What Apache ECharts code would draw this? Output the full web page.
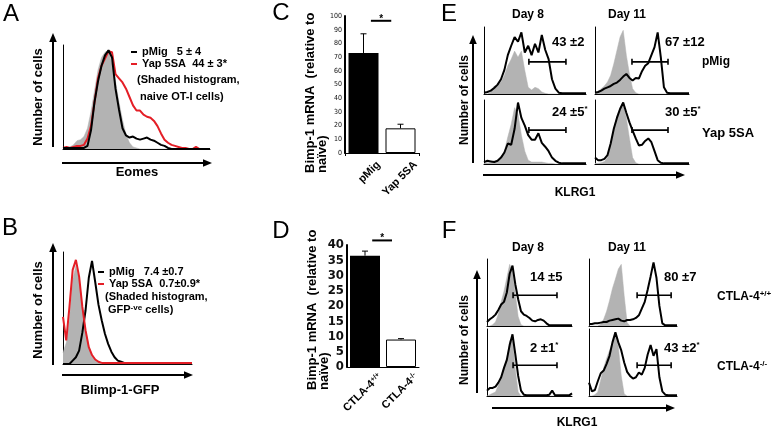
<!DOCTYPE html>
<html>
<head>
<meta charset="utf-8">
<script src="https://cdn.jsdelivr.net/npm/echarts@6/dist/echarts.min.js"></script>
<style>
  html, body { margin: 0; background: #fff; }
  #chart { width: 774px; height: 430px; }
</style>
</head>
<body>
<div id="chart"></div>
<script>
// ---- data (histograms: % of max, evenly spaced bins across each plot) ----
// A: Eomes
const eomesNaive = [0,1,2,4,8,9,12,20,36,56,76,88,93,95,82,65,45,28,14,6,2,1,0,0,0,0,0,0,0,0,0,0,0,0,0,0,0,0,0,0,0,0,0]
const eomesPMig = [1,1,1,1,1,1,1,3,18,45,65,80,90,95,88,58,38,20,13,11,12,10,9,10,11,9,8,6,4,3,1,0,0,0,0,0,0,0,0,0,0,0,0]
const eomesYap = [1,2,1,2,3,3,4,10,22,45,68,80,87,94,93,72,68,64,58,50,42,37,37,33,31,30,27,22,15,9,6,4,3,2,1,1,0,0,2,0,0,0,0]
// B: Blimp-1-GFP
const blimpNaive = [10,19,40,75,88,76,50,30,16,8,4,2,0,0,0,0,0,0,0,0,0,0,0,0,0,0,0,0,0,0,0,0,0,0,0,0,0,0,0,0,0]
const blimpPMig = [0,0,0,3,6,12,28,48,77,92,73,53,39,27,18,11,6,3,2,1,1,1,1,1,1,1,1,1,1,1,1,1,1,1,1,1,1,1,1,1,1]
const blimpYap = [42,21,51,84,93,78,51,30,15,8,4,2,1,1,1,1,1,1,1,1,1,1,1,1,1,1,1,1,1,1,1,1,1,1,1,1,1,1,1,1,1]
// E: KLRG1, pMig / Yap 5SA, day 8 / day 11
const klrgD8PMig = [2,3,5,9,14,22,36,58,72,85,78,92,62,72,58,75,62,88,66,52,22,8,2,1,1,1,1,1,1,1,1]
const klrgD8PMigNaive = [0,0,3,12,12,18,28,42,52,64,55,64,35,10,6,10,8,3,1,0,0,0,0,0,0,0,0,0,0,0,0]
const klrgD11PMig = [2,3,5,8,10,12,15,17,21,26,30,24,20,24,23,34,42,46,58,70,92,55,10,2,1,1,1,1,1,1,1]
const klrgD11PMigNaive = [1,4,8,12,18,28,45,65,85,95,58,30,8,2,0,0,0,0,0,0,0,0,0,0,0,0,0,0,0,0,0]
const klrgD8Yap = [3,5,4,3,5,10,18,32,30,55,96,72,60,45,38,38,48,33,27,20,10,5,2,1,1,1,1,1,1,1,1]
const klrgD8YapNaive = [1,2,2,5,6,10,20,42,62,88,78,45,20,6,3,3,3,3,2,1,1,0,0,0,0,0,0,0,0,0,0]
const klrgD11Yap = [10,6,6,8,14,32,55,72,86,96,80,65,52,40,29,30,36,40,34,20,6,2,1,1,1,1,1,1,1,1,1]
const klrgD11YapNaive = [1,1,2,4,10,30,55,75,88,96,72,40,10,2,0,0,0,0,0,0,0,0,0,0,0,0,0,0,0,0,0]
// F: KLRG1, CTLA-4 +/+ and -/-
const ctlaD8WT = [6,10,13,17,24,32,36,50,78,90,62,40,22,17,15,12,8,7,9,10,8,4,1,1,1,1,1,1,1,1,1]
const ctlaD8WTNaive = [0,0,2,6,18,36,52,72,92,82,48,14,2,0,0,0,0,0,0,0,0,0,0,0,0,0,0,0,0,0,0]
const ctlaD11WT = [3,3,4,4,5,6,6,8,9,10,11,8,7,9,9,10,12,16,26,36,54,74,95,72,30,4,1,1,1,1,1]
const ctlaD11WTNaive = [0,0,0,0,3,10,22,38,56,70,85,92,45,5,0,0,0,0,0,0,0,0,0,0,0,0,0,0,0,0,0]
const ctlaD8KO = [8,12,12,14,20,28,42,54,76,92,62,30,8,2,1,1,1,1,1,1,1,1,2,8,1,1,1,1,1,1,4]
const ctlaD8KONaive = [0,2,4,6,16,30,42,56,82,88,40,6,0,0,0,0,0,0,0,0,0,0,0,0,0,0,0,0,0,0,0]
const ctlaD11KO = [20,7,9,22,34,38,48,60,80,95,80,68,50,36,30,26,28,35,32,42,62,76,60,70,28,7,2,1,1,1,1]
const ctlaD11KONaive = [0,0,2,6,24,42,56,68,80,90,74,30,3,0,0,0,0,0,0,0,0,0,0,0,0,0,0,0,0,0,0]

// gates [from bin, to bin, height]
const gatesE = [[13.2, 24.1, 48], [11.8, 23.3, 48], [13.2, 24.1, 53], [11.8, 23.3, 53]]
const gatesF = [[9.2, 24.7, 46], [16.4, 28, 46], [9.2, 24.7, 46], [16.4, 28, 46]]
const pctE = ['43 ±2', '67 ±12', '24 ±5{s|*}', '30 ±5{s|*}']
const pctF = ['14 ±5', '80 ±7', '2 ±1{s|*}', '43 ±2{s|*}']

// C / D bar charts
const catsC = ['pMig', 'Yap 5SA']
const valsC = [73, 18]
const errC = [14, 3]
const sigC = 96.5
const catsD = ['CTLA-4+/+', 'CTLA-4-/-']
const valsD = [36.5, 9]
const errD = [1.5, 0.3]
const sigD = 41.5

const legendA = { 'pMig': 'pMig   5 ± 4', 'Yap 5SA': 'Yap 5SA  44 ± 3*' }
const legendB = { 'pMig': 'pMig   7.4 ±0.7', 'Yap 5SA': 'Yap 5SA  0.7±0.9*' }

// ---- styling ----
const FONT = '"Liberation Sans", Arial, sans-serif'
const NARROW = '"Liberation Sans Narrow", "DejaVu Sans Condensed", "Liberation Sans", sans-serif'
const GREY = '#b3b3b3'
const RED = '#e41e26'

const grids = [], xAxes = [], yAxes = [], series = []

function addHistGrid(box, n) {
  const idx = grids.length
  grids.push({ left: box[0], top: box[1], width: box[2], height: box[3], outerBoundsMode: 'none' })
  xAxes.push({
    gridIndex: idx, type: 'value', min: 0, max: n - 1,
    axisLine: { show: true, lineStyle: { color: '#000', width: 1 } },
    axisTick: { show: false }, axisLabel: { show: false }, splitLine: { show: false },
  })
  yAxes.push({
    gridIndex: idx, type: 'value', min: 0, max: 100,
    axisLine: { show: true, lineStyle: { color: '#000', width: 1 } },
    axisTick: { show: false }, axisLabel: { show: false }, splitLine: { show: false },
  })
  return idx
}

function hist(idx, vals, color, fill, name) {
  const s = {
    type: 'line', name, xAxisIndex: idx, yAxisIndex: idx,
    data: vals.map((v, i) => [i, v]),
    symbol: 'none', silent: true, color,
    lineStyle: { color, width: fill ? 0.5 : 2 },
    z: fill ? 1 : 3,
  }
  if (fill) s.areaStyle = { color, opacity: 1 }
  return s
}

function gate(idx, g) {
  return {
    type: 'custom', xAxisIndex: idx, yAxisIndex: idx, data: [g], silent: true, z: 4,
    renderItem: (params, api) => {
      const a = api.coord([api.value(0), api.value(2)])
      const b = api.coord([api.value(1), api.value(2)])
      const st = { stroke: '#000', lineWidth: 1.6 }
      return {
        type: 'group', children: [
          { type: 'line', shape: { x1: a[0], y1: a[1], x2: b[0], y2: b[1] }, style: st },
          { type: 'line', shape: { x1: a[0], y1: a[1] - 3, x2: a[0], y2: a[1] + 3 }, style: st },
          { type: 'line', shape: { x1: b[0], y1: b[1] - 3, x2: b[0], y2: b[1] + 3 }, style: st },
        ],
      }
    },
  }
}

// A, B
const gA = addHistGrid([63, 45, 147, 104], eomesNaive.length)
series.push(hist(gA, eomesNaive, GREY, true, 'naive A'))
series.push(hist(gA, eomesYap, RED, false, 'Yap 5SA'))
series.push(hist(gA, eomesPMig, '#000', false, 'pMig'))
const gB = addHistGrid([63, 252, 129, 112], blimpNaive.length)
series.push(hist(gB, blimpNaive, GREY, true, 'GFP-ve B'))
series.push(hist(gB, blimpPMig, '#000', false, 'pMig'))
series.push(hist(gB, blimpYap, RED, false, 'Yap 5SA'))

// C, D bar charts
function addBarPanel(box, cats, vals, errs, sig, yMax, yStep, tickFont, labelMargin, isD) {
  const idx = grids.length
  grids.push({ left: box[0], top: box[1], width: box[2], height: box[3], outerBoundsMode: 'none' })
  xAxes.push({
    gridIndex: idx, type: 'category', data: cats,
    axisLine: { show: true, lineStyle: { color: '#000', width: 1 } },
    axisTick: { show: !isD, length: 3, lineStyle: { color: '#000' } },
    axisLabel: { show: false }, splitLine: { show: false },
  })
  yAxes.push({
    gridIndex: idx, type: 'value', min: 0, max: yMax, interval: yStep,
    axisLine: { show: true, lineStyle: { color: '#000', width: 2 } },
    axisTick: { show: false },
    axisLabel: Object.assign({ margin: 3, color: '#111', fontFamily: NARROW }, tickFont),
    splitLine: { show: false },
  })
  series.push({
    type: 'bar', xAxisIndex: idx, yAxisIndex: idx, barWidth: 30, silent: true,
    data: vals.map((v, i) => ({
      value: v,
      itemStyle: i === 0 ? { color: '#000' } : { color: '#fff', borderColor: '#000', borderWidth: 1 },
    })),
  })
  // error bars (upper only)
  series.push({
    type: 'custom', xAxisIndex: idx, yAxisIndex: idx, silent: true, z: 5,
    data: vals.map((v, i) => [i, v, v + errs[i]]),
    renderItem: (params, api) => {
      const lo = api.coord([api.value(0), api.value(1)])
      const hi = api.coord([api.value(0), api.value(2)])
      const st = { stroke: '#000', lineWidth: 1 }
      return {
        type: 'group', children: [
          { type: 'line', shape: { x1: lo[0], y1: lo[1], x2: hi[0], y2: hi[1] }, style: st },
          { type: 'line', shape: { x1: hi[0] - 3, y1: hi[1], x2: hi[0] + 3, y2: hi[1] }, style: st },
        ],
      }
    },
  })
  // significance bar
  series.push({
    type: 'custom', xAxisIndex: idx, yAxisIndex: idx, silent: true, z: 5, clip: false,
    data: [[0, 1, sig]],
    renderItem: (params, api) => {
      const p0 = api.coord([0, api.value(2)])
      const p1 = api.coord([1, api.value(2)])
      const band = api.size([1, 0])[0]
      const x1 = p0[0] + band * 0.2, x2 = p1[0] - band * 0.25
      return {
        type: 'group', children: [
          { type: 'line', shape: { x1, y1: p0[1], x2, y2: p0[1] }, style: { stroke: '#000', lineWidth: 2 } },
          { type: 'text', x: (x1 + x2) / 2, y: p0[1] + 3, style: {
            text: '*', fill: '#000', fontSize: 10, fontWeight: 'bold', fontFamily: FONT,
            align: 'center', verticalAlign: 'bottom', textAlign: 'center', textVerticalAlign: 'bottom' } },
        ],
      }
    },
  })
  // rotated category labels sit a little to the right of the bars
  const lab = grids.length
  grids.push({ left: box[0] + 15, top: box[1], width: box[2], height: box[3], outerBoundsMode: 'none' })
  xAxes.push({
    gridIndex: lab, type: 'category', data: cats,
    axisLine: { show: false }, axisTick: { show: false }, splitLine: { show: false },
    axisLabel: {
      interval: 0, rotate: 45, margin: labelMargin, color: '#000',
      fontSize: 11, fontWeight: 'bold', fontFamily: FONT,
      formatter: (v) => v.replace(/^(CTLA-4)(.+)$/, '$1{s|$2}'),
      rich: { s: { fontSize: 7, fontWeight: 'bold', fontFamily: FONT, color: '#000', verticalAlign: 'top' } },
    },
  })
  yAxes.push({ gridIndex: lab, type: 'value', min: 0, max: 1, show: false })
}

addBarPanel([345, 16, 74, 137], catsC, valsC, errC, sigC, 100, 10, { fontSize: 7 }, 10, false)
addBarPanel([347, 245, 72, 122], catsD, valsD, errD, sigD, 40, 5, { fontSize: 13, fontWeight: 'bold' }, 8, true)

// E, F small histograms
const eBoxes = [[484, 27, 102, 67], [595, 27, 94, 67], [484, 100, 102, 64], [595, 100, 94, 64]]
const eData = [[klrgD8PMigNaive, klrgD8PMig], [klrgD11PMigNaive, klrgD11PMig], [klrgD8YapNaive, klrgD8Yap], [klrgD11YapNaive, klrgD11Yap]]
eBoxes.forEach((box, k) => {
  const g = addHistGrid(box, eData[k][1].length)
  series.push(hist(g, eData[k][0], GREY, true, 'E naive ' + k))
  series.push(hist(g, eData[k][1], '#000', false, 'E ' + k))
  series.push(gate(g, gatesE[k]))
})
const fBoxes = [[487, 259, 85, 67], [589, 259, 88, 67], [487, 329, 85, 67], [589, 329, 88, 67]]
const fData = [[ctlaD8WTNaive, ctlaD8WT], [ctlaD11WTNaive, ctlaD11WT], [ctlaD8KONaive, ctlaD8KO], [ctlaD11KONaive, ctlaD11KO]]
fBoxes.forEach((box, k) => {
  const g = addHistGrid(box, fData[k][1].length)
  series.push(hist(g, fData[k][0], GREY, true, 'F naive ' + k))
  series.push(hist(g, fData[k][1], '#000', false, 'F ' + k))
  series.push(gate(g, gatesF[k]))
})

// ---- annotations ----
const SUP = { s: { fontSize: 8, fontWeight: 'bold', fontFamily: FONT, fill: '#000', verticalAlign: 'top' } }

function txt(x, y, text, size, opt) {
  opt = opt || {}
  const align = opt.align || 'left'
  return {
    type: 'text', x, y, rotation: opt.rot || 0, silent: true,
    style: {
      text, fill: '#000', fontSize: size, fontWeight: opt.weight || 'bold', fontFamily: FONT,
      align, verticalAlign: opt.valign || 'middle', textAlign: align, textVerticalAlign: opt.valign || 'middle',
      lineHeight: opt.lineHeight, rich: SUP,
    },
  }
}

function arrow(x1, y1, x2, y2) {
  const ang = Math.atan2(y2 - y1, x2 - x1)
  const L = 9, W = 3.8
  const bx = x2 - L * Math.cos(ang), by = y2 - L * Math.sin(ang)
  return [
    { type: 'line', silent: true, shape: { x1, y1, x2: bx, y2: by }, style: { stroke: '#000', lineWidth: 2 } },
    { type: 'polygon', silent: true, shape: { points: [[x2, y2],
      [bx - W * Math.sin(ang), by + W * Math.cos(ang)], [bx + W * Math.sin(ang), by - W * Math.cos(ang)]] },
      style: { fill: '#000' } },
  ]
}

const UP = Math.PI / 2
const graphics = [
  txt(11, 14, 'A', 24, { weight: 'normal', align: 'center' }),
  txt(10, 228, 'B', 24, { weight: 'normal', align: 'center' }),
  txt(281, 13, 'C', 24, { weight: 'normal', align: 'center' }),
  txt(281, 231, 'D', 24, { weight: 'normal', align: 'center' }),
  txt(449, 14, 'E', 24, { weight: 'normal', align: 'center' }),
  txt(449, 231, 'F', 24, { weight: 'normal', align: 'center' }),

  ...arrow(53, 147, 53, 33), ...arrow(62, 163, 212, 163),
  ...arrow(53, 365, 53, 243), ...arrow(62, 375, 193, 375),
  ...arrow(473, 163, 473, 35), ...arrow(483, 175, 685, 175),
  ...arrow(477, 393, 477, 270), ...arrow(492, 408, 675, 408),

  txt(38, 97, 'Number of cells', 13, { align: 'center', rot: UP }),
  txt(38, 310, 'Number of cells', 13, { align: 'center', rot: UP }),
  txt(465, 100, 'Number of cells', 12, { align: 'center', rot: UP }),
  txt(465, 340, 'Number of cells', 12, { align: 'center', rot: UP }),
  txt(137, 172, 'Eomes', 13, { align: 'center' }),
  txt(120, 390, 'Blimp-1-GFP', 13, { align: 'center' }),
  txt(575, 193, 'KLRG1', 12, { align: 'center' }),
  txt(577, 423, 'KLRG1', 12, { align: 'center' }),

  txt(137, 80, '(Shaded histogram,', 11),
  txt(140, 97, 'naive OT-I cells)', 11),
  txt(105, 297, '(Shaded histogram,', 11),
  txt(108, 310, 'GFP{s|-ve} cells)', 11, { lineHeight: 13 }),

  txt(304, 173, 'Bimp-1 mRNA  (relative to\nnaïve)', 13, { valign: 'top', rot: UP, lineHeight: 12 }),
  txt(306, 390, 'Bimp-1 mRNA  (relative to\nnaïve)', 13, { valign: 'top', rot: UP, lineHeight: 12 }),

  txt(528, 15, 'Day 8', 12, { align: 'center' }),
  txt(627, 15, 'Day 11', 12, { align: 'center' }),
  txt(528, 248, 'Day 8', 12, { align: 'center' }),
  txt(627, 248, 'Day 11', 12, { align: 'center' }),
  txt(702, 62, 'pMig', 12),
  txt(702, 133, 'Yap 5SA', 13),
  txt(717, 297, 'CTLA-4{s|+/+}', 12, { lineHeight: 14 }),
  txt(717, 367, 'CTLA-4{s|-/-}', 12, { lineHeight: 14 }),

  txt(552, 42, pctE[0], 13, { lineHeight: 15 }),
  txt(665, 42, pctE[1], 13, { lineHeight: 15 }),
  txt(552, 112, pctE[2], 13, { lineHeight: 15 }),
  txt(665, 112, pctE[3], 13, { lineHeight: 15 }),
  txt(530, 277, pctF[0], 13, { lineHeight: 15 }),
  txt(664, 277, pctF[1], 13, { lineHeight: 15 }),
  txt(530, 348, pctF[2], 13, { lineHeight: 15 }),
  txt(664, 348, pctF[3], 13, { lineHeight: 15 }),
]

const legendBase = {
  data: ['pMig', 'Yap 5SA'], orient: 'vertical', icon: 'rect',
  itemWidth: 6, itemHeight: 2, itemGap: 0, selectedMode: false, padding: 0,
  textStyle: { fontSize: 11, fontWeight: 'bold', fontFamily: FONT, color: '#000', lineHeight: 12 },
}

const chart = echarts.init(document.getElementById('chart'), null, { renderer: 'canvas' })
chart.setOption({
  animation: false,
  backgroundColor: '#fff',
  legend: [
    Object.assign({}, legendBase, { left: 131, top: 46, formatter: (n) => legendA[n] }),
    Object.assign({}, legendBase, { left: 98, top: 266, formatter: (n) => legendB[n] }),
  ],
  grid: grids,
  xAxis: xAxes,
  yAxis: yAxes,
  series,
  graphic: graphics,
})
</script>
</body>
</html>
